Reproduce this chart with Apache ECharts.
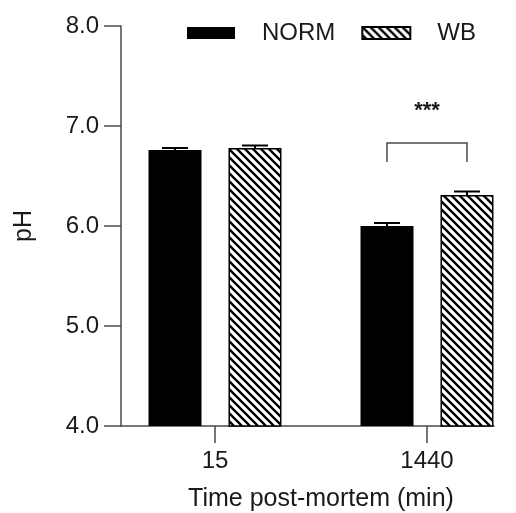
<!DOCTYPE html>
<html>
<head>
<meta charset="utf-8">
<script src="https://cdn.jsdelivr.net/npm/echarts@6/dist/echarts.min.js"></script>
<style>
  html, body { margin: 0; padding: 0; background: #fff; }
  #main { width: 516px; height: 513px; }
</style>
</head>
<body>
<div id="main"></div>
<script>
// data
const categories = ["15", "1440"];
const normMean = [6.76, 6.0];
const normErr = [0.02, 0.03];
const wbMean = [6.78, 6.31];
const wbErr = [0.025, 0.035];
const yMin = 4, yMax = 8, yStep = 1;
// significance bracket: [category index, bracket top, leg bottom, label]
const sigBracket = [[1, 6.83, 6.64, "***"]];

const BAR_W = 53;
const BAR_GAP = 27;
const SHIFT = (BAR_W + BAR_GAP) / 2;
const AXIS_COLOR = "#4a4a4a";
const TEXT_COLOR = "#1a1a1a";
const FONT = "Liberation Sans, Arial, sans-serif";

// hatch pattern for WB bars
function makeHatch() {
  let s = 8;
  let c = document.createElement("canvas");
  c.width = s; c.height = s;
  let ctx = c.getContext("2d");
  ctx.fillStyle = "#fff";
  ctx.fillRect(0, 0, s, s);
  ctx.strokeStyle = "#000";
  ctx.lineWidth = 2.3;
  ctx.beginPath();
  ctx.moveTo(-2, -2); ctx.lineTo(s + 2, s + 2);
  ctx.moveTo(-2, s - 2); ctx.lineTo(2, s + 2);
  ctx.moveTo(s - 2, -2); ctx.lineTo(s + 2, 2);
  ctx.stroke();
  return c;
}

function errorBars(means, errs, shift) {
  return {
    type: "custom",
    xAxisIndex: 0,
    yAxisIndex: 0,
    z: 5,
    data: means.map(function (m, i) { return [i, m, errs[i]]; }),
    renderItem: function (params, api) {
      let c = api.value(0);
      let low = api.coord([c, api.value(1)]);
      let high = api.coord([c, api.value(1) + api.value(2)]);
      let x = low[0] + shift;
      let st = { stroke: "#000", lineWidth: 2 };
      return {
        type: "group",
        children: [
          { type: "line", shape: { x1: x, y1: low[1], x2: x, y2: high[1] }, style: st },
          { type: "line", shape: { x1: x - 13, y1: high[1], x2: x + 13, y2: high[1] }, style: st }
        ]
      };
    }
  };
}

let chart = echarts.init(document.getElementById("main"));

let option = {
  animation: false,
  backgroundColor: "#fff",
  textStyle: { fontFamily: FONT },
  legend: {
    data: ["NORM", "WB"],
    icon: "rect",
    left: 187,
    top: 21,
    padding: 0,
    itemWidth: 48,
    itemHeight: 12,
    itemGap: 26,
    textStyle: { fontSize: 24, color: TEXT_COLOR, padding: [0, 0, 0, 22], fontFamily: FONT }
  },
  grid: [
    // bar grid: one category is 212px wide
    { left: 109, top: 26, width: 424, height: 400, outerBoundsMode: "none" },
    // visible axes grid
    { left: 121, top: 26, width: 373, height: 400, outerBoundsMode: "none" }
  ],
  xAxis: [
    {
      type: "category",
      gridIndex: 0,
      data: categories,
      name: "Time post-mortem (min)",
      nameLocation: "middle",
      nameGap: 61,
      nameTextStyle: { fontSize: 25, color: TEXT_COLOR, fontFamily: FONT },
      axisLine: { show: false },
      axisTick: { show: true, alignWithLabel: true, length: 17, lineStyle: { color: AXIS_COLOR, width: 1.5 } },
      axisLabel: { fontSize: 24, color: TEXT_COLOR, margin: 23, fontFamily: FONT }
    },
    {
      type: "value",
      gridIndex: 1,
      min: 0,
      max: 1,
      axisLine: { show: true, lineStyle: { color: AXIS_COLOR, width: 1.5 } },
      axisTick: { show: false },
      axisLabel: { show: false },
      splitLine: { show: false }
    }
  ],
  yAxis: [
    {
      type: "value",
      gridIndex: 0,
      min: yMin,
      max: yMax,
      interval: yStep,
      show: false
    },
    {
      type: "value",
      gridIndex: 1,
      min: yMin,
      max: yMax,
      interval: yStep,
      name: "pH",
      nameLocation: "middle",
      nameGap: 84,
      nameTextStyle: { fontSize: 25, color: TEXT_COLOR, fontFamily: FONT },
      axisLine: { show: true, lineStyle: { color: AXIS_COLOR, width: 1.5 } },
      axisTick: { show: true, length: 17, lineStyle: { color: AXIS_COLOR, width: 1.5 } },
      axisLabel: {
        fontSize: 24,
        color: TEXT_COLOR,
        margin: 22,
        fontFamily: FONT,
        formatter: function (v) { return v.toFixed(1); }
      },
      splitLine: { show: false }
    }
  ],
  series: [
    {
      name: "NORM",
      type: "bar",
      xAxisIndex: 0,
      yAxisIndex: 0,
      barWidth: BAR_W,
      barGap: (BAR_GAP / BAR_W * 100).toFixed(1) + "%",
      data: normMean,
      itemStyle: { color: "#000" }
    },
    {
      name: "WB",
      type: "bar",
      xAxisIndex: 0,
      yAxisIndex: 0,
      barWidth: BAR_W,
      data: wbMean,
      itemStyle: {
        color: { image: makeHatch(), repeat: "repeat" },
        borderColor: "#000",
        borderWidth: 1.5
      }
    },
    errorBars(normMean, normErr, -SHIFT),
    errorBars(wbMean, wbErr, SHIFT),
    {
      type: "custom",
      xAxisIndex: 0,
      yAxisIndex: 0,
      z: 5,
      data: sigBracket,
      renderItem: function (params, api) {
        let c = api.value(0);
        let top = api.coord([c, api.value(1)]);
        let leg = api.coord([c, api.value(2)]);
        let label = sigBracket[params.dataIndex][3];
        return {
          type: "group",
          children: [
            {
              type: "polyline",
              shape: {
                points: [
                  [top[0] - SHIFT, leg[1]],
                  [top[0] - SHIFT, top[1]],
                  [top[0] + SHIFT, top[1]],
                  [top[0] + SHIFT, leg[1]]
                ]
              },
              style: { stroke: AXIS_COLOR, lineWidth: 1.5, fill: null }
            },
            {
              type: "text",
              x: top[0],
              y: top[1] - 32,
              style: {
                text: label,
                fill: TEXT_COLOR,
                font: "bold 22px " + FONT,
                align: "center",
                verticalAlign: "middle"
              }
            }
          ]
        };
      }
    }
  ]
};

chart.setOption(option);
</script>
</body>
</html>
